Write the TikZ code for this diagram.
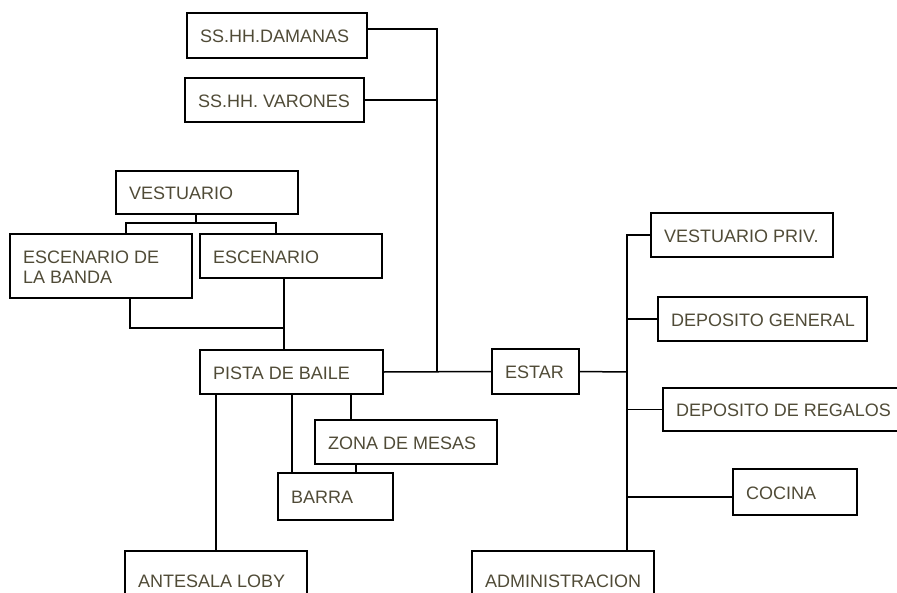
\documentclass[tikz,border=0pt]{standalone}
\usepackage{fontspec}
\setmainfont{Liberation Sans}
\usepackage{tikz}
\usetikzlibrary{calc}
\definecolor{texto}{RGB}{80,75,55}
\tikzset{sala/.style={draw=black, line width=1.5pt, rectangle, outer sep=0pt, inner sep=0pt},
         rotulo/.style={inner sep=0pt, align=left, text=texto, font=\fontsize{18}{20}\selectfont}}
\newcommand{\sala}[6]{\node[sala, minimum width=#4pt, minimum height=#5pt, anchor=north west] (#1) at ( #2 , #3 ) {};
        \node[rotulo, anchor=west] (#1-t) at ([xshift=13pt,yshift=-1pt]#1.west) {#6};}

\begin{document}
\begin{tikzpicture}[x=1pt,y=-1pt, enlace/.style={line width=1.5pt}]
        \useasboundingbox (0,0) rectangle (897,592);
        \clip (0,0) rectangle (897,592);
        % servicios higienicos
        \sala{damas}{187}{13}{180}{45}{SS.HH.DAMANAS}
        \sala{varones}{185}{78}{179}{44}{SS.HH. VARONES}
        % escenario
        \sala{vest}{116}{171}{182}{43}{VESTUARIO}
        \sala{banda}{10}{234}{182}{64}{ESCENARIO DE\\LA BANDA}
        \sala{esc}{200}{234}{182}{44}{ESCENARIO}
        % centro
        \sala{pista}{200}{350}{183}{44}{PISTA DE BAILE}
        \sala{estar}{492}{349}{87}{45}{ESTAR}
        \sala{zona}{315}{420}{182}{44}{ZONA DE MESAS}
        \sala{barra}{278}{473}{115}{47}{BARRA}
        \sala{loby}{125}{551}{182}{58}{ANTESALA LOBY}
        % lado derecho
        \sala{vpriv}{651}{213}{182}{44}{VESTUARIO PRIV.}
        \sala{depgen}{658}{297}{209}{44}{DEPOSITO GENERAL}
        \sala{depreg}{663}{388}{260}{43}{DEPOSITO DE REGALOS}
        \sala{cocina}{733}{469}{124}{46}{COCINA}
        \sala{admin}{472}{551}{182}{58}{ADMINISTRACION}

        % puntos de union
        \coordinate (tronco) at (437,371);
        \coordinate (vs) at (196,223);
        \coordinate (vl) at (126,223);
        \coordinate (vr) at (276,223);
        \coordinate (ej) at (284,328);
        \coordinate (bl) at (130,328);
        \coordinate (bt) at (292,473);
        \coordinate (zt) at (351,420);
        \coordinate (zb) at (356,464);
        \coordinate (dt) at (627,372);
        \coordinate (cw) at ([yshift=-5pt]cocina.west);

        % lado izquierdo
        \draw[enlace] ([yshift=6.5pt]damas.east) -| (tronco);
        \draw[enlace] (varones.east) -- (varones.east -| tronco);
        \draw[enlace] (pista.east) -- (estar.west);
        \draw[enlace] (vest.south -| vs) -- (vs);
        \draw[enlace] (vl |- banda.north) -- (vl) -- (vr) -- (vr |- esc.north);
        \draw[enlace] (esc.south -| ej) -- (ej |- pista.north);
        \draw[enlace] (bl |- banda.south) -- (bl) -- (ej);
        \draw[enlace] (loby.north |- pista.south) -- (loby.north);
        \draw[enlace] (bt |- pista.south) -- (bt);
        \draw[enlace] (zt |- pista.south) -- (zt);
        \draw[enlace] (zb) -- (zb |- barra.north);
        % lado derecho
        \draw[enlace] (estar.east) -- (dt);
        \draw[enlace] (vpriv.west) -| (dt) -- (dt |- admin.north);
        \draw[enlace] (depgen.west) -- (depgen.west -| dt);
        \draw[enlace] (depreg.west) -- (depreg.west -| dt);
        \draw[enlace] (cw) -- (cw -| dt);
\end{tikzpicture}
\end{document}
